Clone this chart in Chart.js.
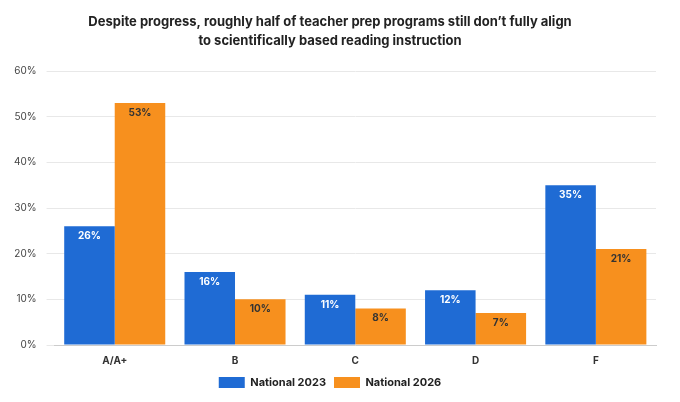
<!DOCTYPE html>
<html>
<head>
<meta charset="utf-8">
<script src="https://cdn.jsdelivr.net/npm/chart.js"></script>
<style>
  body { margin: 0; background: #fff; }
  #wrap { width: 680px; height: 402px; }
</style>
</head>
<body>
<div id="wrap"><canvas id="c" width="680" height="402"></canvas></div>
<script>
const categories = ['A/A+', 'B', 'C', 'D', 'F'];
const national2023 = [26, 16, 11, 12, 35];
const national2026 = [53, 10, 8, 7, 21];
const yTicks = [0, 10, 20, 30, 40, 50, 60];

// labels inside top of each bar
const barLabels = {
  id: 'barLabels',
  afterDatasetsDraw(chart) {
    const ctx = chart.ctx;
    ctx.save();
    ctx.font = 'bold 10px Inter, sans-serif';
    ctx.textAlign = 'center';
    ctx.textBaseline = 'top';
    chart.data.datasets.forEach((ds, i) => {
      ctx.fillStyle = i === 0 ? '#ffffff' : '#333333';
      chart.getDatasetMeta(i).data.forEach((bar, j) => {
        ctx.fillText(ds.data[j] + '%', bar.x, bar.y + 5);
      });
    });
    ctx.restore();
  }
};

new Chart(document.getElementById('c'), {
  type: 'bar',
  data: {
    labels: categories,
    datasets: [
      { label: 'National 2023', data: national2023, backgroundColor: '#1f6bd4' },
      { label: 'National 2026', data: national2026, backgroundColor: '#f7901e' }
    ]
  },
  options: {
    responsive: false,
    animation: false,
    layout: { padding: { left: 4, right: 24, top: 6, bottom: 4 } },
    datasets: { bar: { categoryPercentage: 0.84, barPercentage: 1 } },
    plugins: {
      title: {
        display: true,
        text: ['Despite progress, roughly half of teacher prep programs still don\u2019t fully align',
               'to scientifically based reading instruction'],
        color: '#222',
        font: { family: 'Inter, sans-serif', size: 13, weight: 'bold', lineHeight: 1.5 },
        padding: { top: 6, bottom: 20 }
      },
      legend: {
        position: 'bottom',
        labels: {
          boxWidth: 26, boxHeight: 11, color: '#222', padding: 8,
          font: { family: 'Inter, sans-serif', size: 11, weight: 'bold' }
        }
      },
      tooltip: { enabled: false }
    },
    scales: {
      x: {
        grid: { display: false },
        border: { color: '#ccc' },
        ticks: { color: '#333', padding: 2, font: { family: 'Inter, sans-serif', size: 10, weight: 'bold' } }
      },
      y: {
        min: 0, max: 60,
        afterBuildTicks(axis) { axis.ticks = yTicks.map(v => ({ value: v })); },
        grid: { color: '#e8e8e8' },
        border: { display: false },
        ticks: {
          color: '#444', padding: 10,
          font: { family: 'Inter, sans-serif', size: 10 },
          callback: v => v + '%'
        }
      }
    }
  },
  plugins: [barLabels]
});
</script>
</body>
</html>
